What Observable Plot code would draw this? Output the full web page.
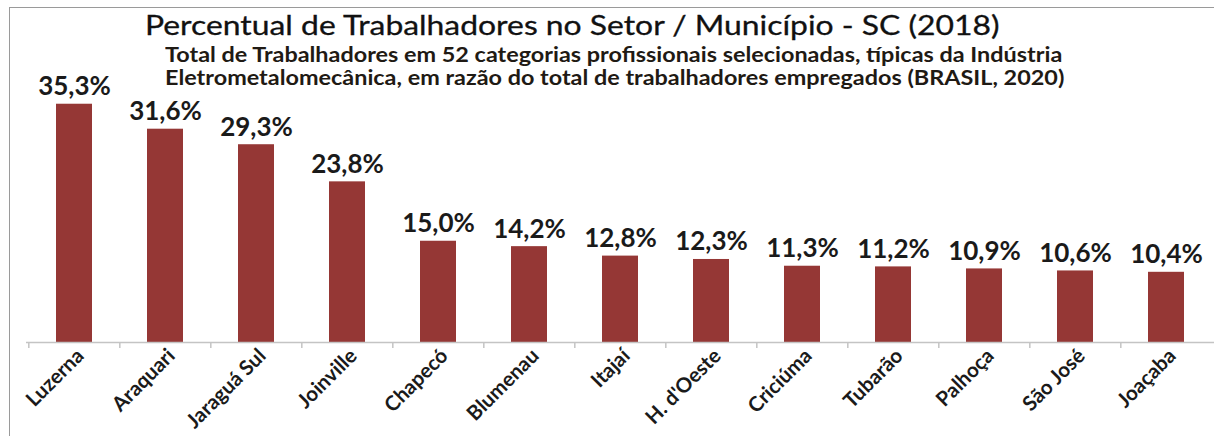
<!DOCTYPE html>
<html>
<head>
<meta charset="utf-8">
<script src="https://cdn.jsdelivr.net/npm/d3@7"></script>
<script src="https://cdn.jsdelivr.net/npm/@observablehq/plot@0.6"></script>
<style>
  body { margin: 0; background: #fff; }
  #wrap { position: relative; width: 1214px; height: 436px; overflow: hidden; font-family: Lato, sans-serif; }
  #frame { position: absolute; left: 9px; top: 7px; right: -10px; bottom: -10px; border-left: 1px solid #9a9a9a; border-top: 1px solid #9a9a9a; }
  #title { position: absolute; left: 145px; top: 10.5px; font-size: 27px; line-height: 1; color: #111; white-space: nowrap; transform: scaleX(1.18); transform-origin: left top; -webkit-text-stroke: 0.3px #111; }
  #subtitle { position: absolute; left: 165px; top: 43px; font-size: 20px; font-weight: bold; line-height: 23px; color: #1f1a14; white-space: nowrap; transform: scaleX(1.17); transform-origin: left top; }
  #chart { position: absolute; left: 0; top: 0; }
</style>
</head>
<body>
<div id="wrap">
  <div id="frame"></div>
  <div id="chart"></div>
  <div id="title">Percentual de Trabalhadores no Setor / Município - SC (2018)</div>
  <div id="subtitle">Total de Trabalhadores em 52 categorias profissionais selecionadas, típicas da Indústria<br>Eletrometalomecânica, em razão do total de trabalhadores empregados (BRASIL, 2020)</div>
</div>
<script>
const cities = ["Luzerna", "Araquari", "Jaraguá Sul", "Joinville", "Chapecó", "Blumenau", "Itajaí", "H. d'Oeste", "Criciúma", "Tubarão", "Palhoça", "São José", "Joaçaba"];
const percentages = [35.3, 31.6, 29.3, 23.8, 15.0, 14.2, 12.8, 12.3, 11.3, 11.2, 10.9, 10.6, 10.4];

const data = cities.map((city, i) => ({ city, value: percentages[i] }));
const fmt = v => v.toFixed(1).replace(".", ",") + "%";

const W = 1214, H = 436, ML = 26, MR = 0, MT = 72, MB = 94;
const step = (W - ML - MR) / cities.length;

const chart = Plot.plot({
  width: W,
  height: H,
  marginLeft: ML,
  marginRight: MR,
  marginTop: MT,
  marginBottom: MB,
  style: { fontFamily: "Lato, sans-serif", background: "transparent", overflow: "visible" },
  x: { domain: cities, paddingInner: 0.6, paddingOuter: 0.3, label: null },
  y: { domain: [0, 40], axis: null },
  marks: [
    Plot.barY(data, { x: "city", y: "value", fill: "#953735" }),
    Plot.ruleY([0], { stroke: "#c4c4c4", strokeWidth: 1.5 }),
    Plot.ruleX(cities, { x: d => d, dx: -step / 2, y1: 0, y2: -0.9, stroke: "#c4c4c4", strokeWidth: 1.5 }),
    Plot.text(data, { x: "city", y: "value", text: d => fmt(d.value), lineAnchor: "bottom", dy: -9, fontSize: 26, fontWeight: "bold", fill: "#1a1a1a" }),
    Plot.axisX({ tickRotate: -45, tickSize: 0, tickPadding: 8, dx: 6, dy: 2, fontSize: 20.5, fontWeight: "bold", color: "#1a1a1a", label: null })
  ]
});
document.getElementById("chart").appendChild(chart);
</script>
</body>
</html>
